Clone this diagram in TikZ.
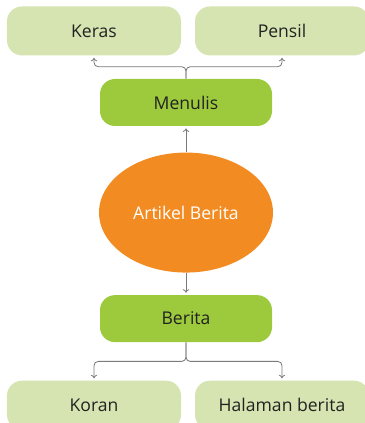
\documentclass[tikz,border=0pt]{standalone}
\usepackage{fontspec}
\setmainfont{Open Sans}
\usetikzlibrary{shapes.geometric,arrows.meta,positioning}
\definecolor{leaf}{HTML}{D5E4B0}
\definecolor{stem}{HTML}{9DC93D}
\definecolor{peel}{HTML}{F28C22}
\definecolor{wire}{HTML}{7A7A7A}
\definecolor{ink}{HTML}{222222}

\begin{document}
\begin{tikzpicture}[
     > = {To[length=2.5pt,width=4.5pt]}, % arrow head style
     shorten > = 1.5pt, % don't touch arrow head to node
     font = \fontsize{12.5}{15}\selectfont
 ]

 \tikzstyle{leafbox}=[
     rectangle,
     rounded corners = 0.375cm,
     fill = leaf,
     text = ink,
     minimum width = 4.35cm,
     minimum height = 1.225cm
 ]
 \tikzstyle{stembox}=[
     rectangle,
     rounded corners = 0.375cm,
     fill = stem,
     text = ink,
     minimum width = 4.3cm,
     minimum height = 1.175cm
 ]
 \tikzstyle{core}=[
     ellipse,
     fill = peel,
     text = white,
     inner sep = 0pt,
     minimum width = 4.35cm,
     minimum height = 3cm
 ]
 \tikzstyle{link}=[
     draw = wire,
     line width = 0.6pt,
     rounded corners = 3pt
 ]

 \useasboundingbox (0,0) rectangle (9.1,-10.575);

 \node[stembox] (menulis) at (4.65,-2.5625) {Menulis};
 \node[core] (artikel) [below=0.65cm of menulis] {Artikel Berita};
 \node[stembox] (berita) [below=0.55cm of artikel] {Berita};

 \node[leafbox] (keras) [above=0.575cm of menulis, xshift=-2.3cm] {Keras};
 \node[leafbox] (pensil) [above=0.575cm of menulis, xshift=2.4cm] {Pensil};
 \node[leafbox] (koran) [below=0.95cm of berita, xshift=-2.3cm] {Koran};
 \node[leafbox] (halaman) [below=0.95cm of berita, xshift=2.4cm] {Halaman berita};

 % forks above and below
 \coordinate (upfork) at ([yshift=0.3cm]menulis.north);
 \coordinate (downfork) at ([yshift=-0.475cm]berita.south);

 \path[link,->] (artikel) edge (menulis);
 \path[link,->] (artikel) edge (berita);

 \draw[link,->] (menulis.north) -- (upfork) -| (keras.south);
 \draw[link,->] (menulis.north) -- (upfork) -| (pensil.south);
 \draw[link,->] (berita.south) -- (downfork) -| (koran.north);
 \draw[link,->] (berita.south) -- (downfork) -| (halaman.north);
\end{tikzpicture}
\end{document}
